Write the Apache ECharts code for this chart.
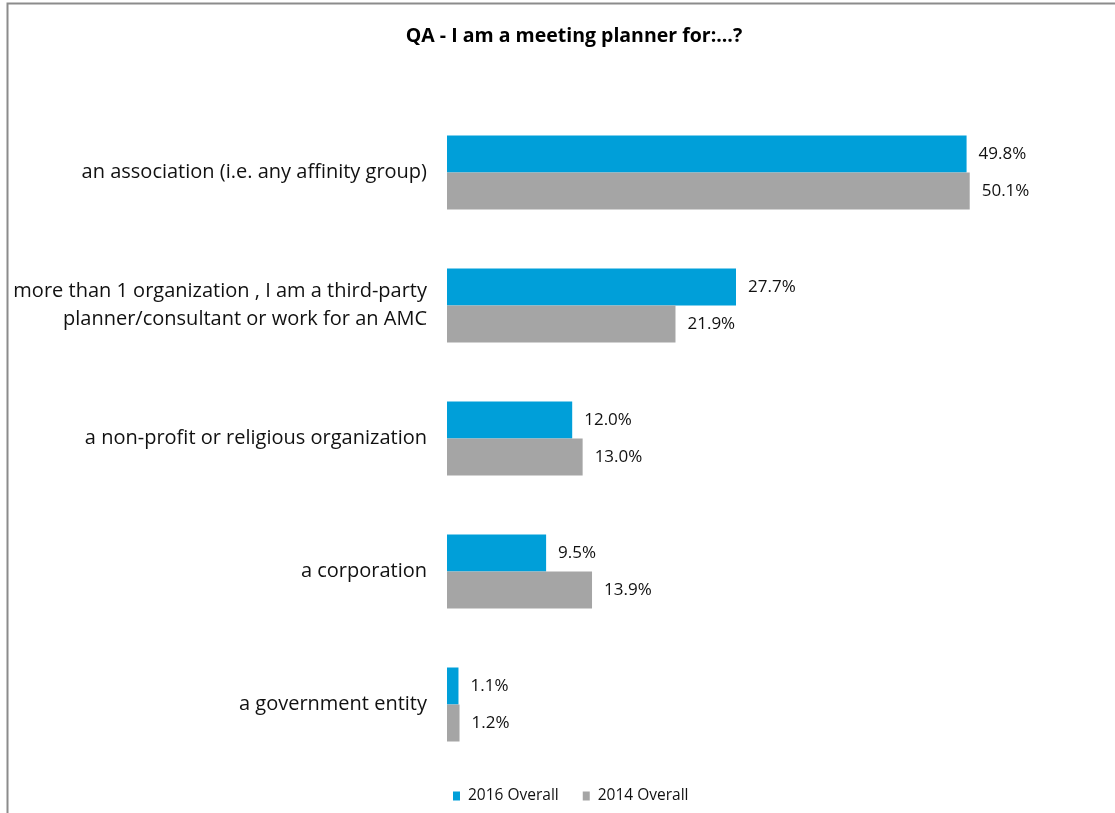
<!DOCTYPE html>
<html>
<head>
<meta charset="utf-8">
<script src="https://cdn.jsdelivr.net/npm/echarts@6/dist/echarts.min.js"></script>
<style>
  html, body { margin: 0; padding: 0; background: #fff; }
  #chart { width: 1115px; height: 813px; }
</style>
</head>
<body>
<div id="chart"></div>
<script>
// Survey answers, top to bottom
const categories = [
  'an association (i.e. any affinity group)',
  'more than 1 organization , I am a third-party\nplanner/consultant or work for an AMC',
  'a non-profit or religious organization',
  'a corporation',
  'a government entity'
];
const seriesNames = ['2016 Overall', '2014 Overall'];
const values2016 = [49.8, 27.7, 12.0, 9.5, 1.1];
const values2014 = [50.1, 21.9, 13.0, 13.9, 1.2];

const colors = ['#009FD9', '#A5A5A5'];

const chart = echarts.init(document.getElementById('chart'));

function barSeries(name, data, color) {
  return {
    name: name,
    type: 'bar',
    data: data,
    barWidth: 37,
    barGap: '0%',
    itemStyle: { color: color },
    label: {
      show: true,
      position: 'right',
      distance: 12,
      formatter: p => p.value.toFixed(1) + '%',
      color: '#111',
      fontFamily: 'Open Sans',
      fontSize: 17
    },
    emphasis: { disabled: true }
  };
}

chart.setOption({
  animation: false,
  title: {
    text: 'QA - I am a meeting planner for:...?',
    left: 569,
    textAlign: 'center',
    top: 21,
    textStyle: {
      fontFamily: 'Open Sans',
      fontWeight: 'bold',
      fontSize: 19.5,
      color: '#000'
    }
  },
  legend: {
    data: seriesNames,
    top: 783,
    left: 448,
    itemWidth: 7,
    itemHeight: 9,
    itemGap: 24,
    icon: 'rect',
    textStyle: {
      fontFamily: 'Open Sans',
      fontSize: 15.5,
      color: '#111',
      padding: [0, 0, 0, 3]
    }
  },
  grid: {
    left: 447,
    top: 106,
    width: 626,
    height: 665
  },
  xAxis: {
    type: 'value',
    min: 0,
    max: 60,
    show: false
  },
  yAxis: {
    type: 'category',
    data: categories,
    inverse: true,
    axisLine: { show: false },
    axisTick: { show: false },
    axisLabel: {
      margin: 20,
      fontFamily: 'Open Sans',
      fontSize: 20,
      color: '#111',
      lineHeight: 28,
      align: 'right'
    }
  },
  series: [
    barSeries(seriesNames[0], values2016, colors[0]),
    barSeries(seriesNames[1], values2014, colors[1])
  ],
  graphic: [
    {
      type: 'polyline',
      shape: { points: [[7.5, 813], [7.5, 3.5], [1115, 3.5]] },
      style: { stroke: '#8C8C8C', lineWidth: 2, fill: null },
      silent: true
    }
  ]
});
</script>
</body>
</html>
